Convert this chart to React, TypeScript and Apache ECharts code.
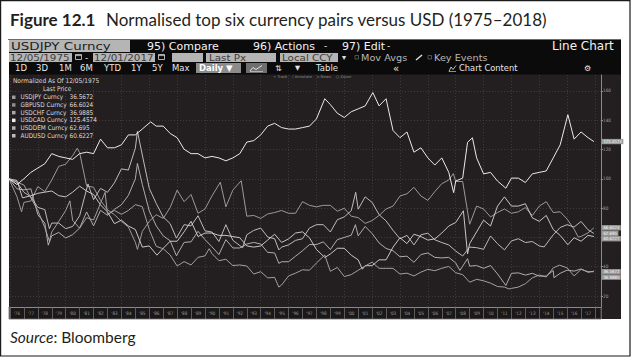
import React, { useEffect, useRef } from "react";
import * as echarts from "echarts";

// ---------- data (normalised to 100 on 12/05/1975) ----------
const SERIES_NAMES = ["USDJPY Curncy", "GBPUSD Curncy", "USDCHF Curncy", "USDCAD Curncy", "USDDEM Curncy", "AUDUSD Curncy"];
const LAST_PRICES = ["36.5672", "66.6024", "36.9885", "125.4574", "62.695", "60.6227"];

const USDJPY = [[1975.93,100],[1976.5,97.7],[1977.0,95.8],[1977.5,86.9],[1978.0,78.4],[1978.5,66.7],[1978.83,57.5],[1979.0,63.7],[1979.5,70.9],[1980.0,78.4],[1980.3,85],[1980.5,71.6],[1981.0,66.3],[1981.5,73.5],[1982.0,71.9],[1982.5,83.3],[1982.83,90.8],[1983.0,75.8],[1983.5,78.4],[1984.0,75.8],[1984.5,78.4],[1985.0,82.4],[1985.5,81],[1986.0,65.4],[1986.5,53.9],[1987.0,52.3],[1987.5,48],[1988.0,40.5],[1988.5,43.5],[1989.0,41.2],[1989.5,46.4],[1990.0,47.4],[1990.3,52.3],[1990.5,49],[1991.0,44.1],[1991.5,45.1],[1992.0,40.8],[1992.5,41.2],[1993.0,40.5],[1993.5,35],[1994.0,36.6],[1994.5,32.4],[1995.0,32.7],[1995.3,26.1],[1995.5,27.5],[1996.0,33.7],[1996.5,35.6],[1997.0,37.9],[1997.5,37.6],[1998.0,42.5],[1998.6,48],[1999.0,36.9],[1999.5,39.5],[2000.0,33.3],[2000.5,34.6],[2001.0,37.6],[2001.5,40.5],[2002.0,43.1],[2002.5,38.9],[2003.0,38.9],[2003.5,38.9],[2004.0,35],[2004.5,35.6],[2005.0,33.7],[2005.5,36.3],[2006.0,38.2],[2006.5,37.3],[2007.0,38.9],[2007.5,40.2],[2008.0,35.9],[2008.5,34.6],[2009.0,29.4],[2009.5,31.4],[2010.0,30.4],[2010.5,28.8],[2011.0,26.5],[2011.5,26.1],[2011.83,24.8],[2012.0,25.2],[2012.5,26.1],[2013.0,28.4],[2013.5,32.4],[2014.0,34.3],[2014.5,33],[2015.0,39.2],[2015.45,41.1],[2016.0,39.2],[2016.5,33.7],[2017.0,38.2],[2017.5,36.6],[2017.92,36.57]];

const GBPUSD = [[1975.93,100],[1976.5,87.8],[1976.83,77.5],[1977.0,83.9],[1977.5,84.9],[1978.0,94.7],[1978.5,91.3],[1979.0,99.2],[1979.5,108.5],[1980.0,110],[1980.5,115.9],[1980.83,120.9],[1981.0,117.9],[1981.5,95.2],[1982.0,94.2],[1982.5,85.3],[1983.0,78.9],[1983.5,75.5],[1984.0,71],[1984.5,67.1],[1985.0,56.7],[1985.15,51.8],[1985.5,64.1],[1986.0,71],[1986.5,75.5],[1987.0,73],[1987.5,80.4],[1988.0,92.3],[1988.5,84.4],[1989.0,89.3],[1989.5,76.5],[1990.0,79.4],[1990.5,88.3],[1991.1,97.7],[1991.5,80.9],[1992.0,92.3],[1992.6,98.7],[1993.0,74.5],[1993.5,75],[1994.0,73],[1994.5,76],[1995.0,77],[1995.5,78.4],[1996.0,76.5],[1996.5,76.5],[1997.0,84.4],[1997.5,81.9],[1998.0,80.9],[1998.5,81.9],[1999.0,81.9],[1999.5,77.9],[2000.0,79.9],[2000.5,74.5],[2001.0,73.5],[2001.5,69.6],[2002.0,71.5],[2002.5,75],[2003.0,79.4],[2003.5,81.4],[2004.0,88.3],[2004.5,89.8],[2005.0,94.2],[2005.5,88.3],[2006.0,85.3],[2006.5,91.3],[2007.0,96.7],[2007.5,99.2],[2007.83,103.6],[2008.0,98.2],[2008.5,98.2],[2009.0,69],[2009.5,81.4],[2010.0,79.4],[2010.5,74],[2011.0,77],[2011.5,79.4],[2012.0,76.5],[2012.5,77.5],[2013.0,80.4],[2013.5,75],[2014.0,81.4],[2014.5,84.4],[2015.0,77],[2015.5,77.5],[2016.0,72.5],[2016.5,65.6],[2016.8,60.2],[2017.0,60.7],[2017.5,63.1],[2017.92,66.6]];

const USDCHF = [[1975.93,100],[1976.5,93.2],[1977.0,92.5],[1977.5,93.2],[1978.0,75.5],[1978.5,69.8],[1978.75,54.7],[1979.0,61.1],[1979.5,63.4],[1980.0,59.6],[1980.5,61.9],[1981.0,66.4],[1981.5,77.4],[1982.0,67.9],[1982.5,78.5],[1983.0,75.1],[1983.5,79.2],[1984.0,82.3],[1984.5,88.7],[1985.0,100],[1985.15,110.6],[1985.5,96.2],[1986.0,78.1],[1986.5,67.9],[1987.0,61.1],[1987.5,57.7],[1987.95,47.5],[1988.5,56.6],[1989.0,57],[1989.5,64.2],[1990.0,58.5],[1990.5,53.6],[1991.0,48.3],[1991.5,58.5],[1992.0,52.8],[1992.5,52.8],[1993.0,55.5],[1993.5,56.6],[1994.0,55.5],[1994.5,49.8],[1995.0,49.4],[1995.3,42.3],[1995.5,43.4],[1996.0,43.4],[1996.5,47.2],[1997.0,50.9],[1997.5,55.1],[1998.0,55.1],[1998.5,57],[1999.0,51.7],[1999.5,58.5],[2000.0,60],[2000.5,61.5],[2000.8,68.7],[2001.0,61.1],[2001.5,67.5],[2002.0,62.6],[2002.5,56.2],[2003.0,52.5],[2003.5,50.9],[2004.0,46.8],[2004.5,47.2],[2005.0,43],[2005.5,48.3],[2006.0,49.4],[2006.5,46.4],[2007.0,46],[2007.5,46.4],[2008.0,42.6],[2008.3,37.5],[2008.85,45.5],[2009.0,40.4],[2009.5,40.8],[2010.0,38.9],[2010.5,40.8],[2011.0,35.1],[2011.6,27.2],[2012.0,35.5],[2012.5,35.8],[2013.0,34.3],[2013.5,35.5],[2014.0,33.6],[2014.5,33.6],[2015.0,37.4],[2015.05,32.5],[2015.5,35.5],[2016.0,37.7],[2016.5,37],[2017.0,38.5],[2017.5,36.2],[2017.92,36.99]];

const USDCAD = [[1975.93,100],[1976.5,96.1],[1977.0,100],[1977.5,104.4],[1978.0,107.4],[1978.5,110.3],[1979.0,117.2],[1979.5,115.3],[1980.0,114.3],[1980.5,113.3],[1981.0,117.2],[1981.5,118.2],[1982.0,117.2],[1982.5,127.1],[1983.0,121.2],[1983.5,121.2],[1984.0,123.2],[1984.5,130],[1985.0,130],[1985.5,134],[1986.1,138.9],[1986.5,136],[1987.0,136],[1987.5,131],[1988.0,128.1],[1988.5,120.2],[1989.0,117.2],[1989.5,117.2],[1990.0,114.3],[1990.5,115.3],[1991.0,114.3],[1991.5,112.3],[1992.0,114.3],[1992.5,117.2],[1993.0,125.1],[1993.5,126.1],[1994.0,130],[1994.5,136],[1995.0,137.9],[1995.5,135],[1996.0,134],[1996.5,134],[1997.0,135],[1997.5,136],[1998.0,140.9],[1998.6,154.7],[1999.0,150.7],[1999.5,144.8],[2000.0,141.9],[2000.5,145.8],[2001.0,147.8],[2001.5,149.8],[2002.05,158.9],[2002.5,149.8],[2003.0,154.7],[2003.5,133],[2004.0,128.1],[2004.5,132],[2005.0,118.2],[2005.5,121.2],[2006.0,114.3],[2006.5,109.4],[2007.0,114.3],[2007.5,104.4],[2007.85,90.6],[2008.0,98.5],[2008.5,100.5],[2008.85,125],[2009.2,128],[2009.5,114.3],[2010.0,103.4],[2010.5,104.4],[2011.0,98.5],[2011.6,93.6],[2012.0,100.5],[2012.5,100.5],[2013.0,97.5],[2013.5,103.4],[2014.0,104.4],[2014.5,105.4],[2015.0,114.3],[2015.5,123.2],[2016.05,143.8],[2016.5,127.1],[2017.0,132],[2017.5,128.1],[2017.92,125.46]];

const USDDEM = [[1975.93,100],[1976.5,97.7],[1977.0,90.8],[1977.5,87.7],[1978.0,80.5],[1978.5,79],[1978.83,66],[1979.0,69.8],[1979.5,69.8],[1980.0,66],[1980.5,67.5],[1981.0,74.8],[1981.6,96.5],[1982.0,85.8],[1982.5,93.5],[1983.0,90.8],[1983.5,97.3],[1984.0,106.8],[1984.5,106],[1985.0,120.9],[1985.15,132.4],[1985.5,116.3],[1986.0,93.5],[1986.5,83.2],[1987.0,74],[1987.5,69.4],[1987.95,59.5],[1988.5,68.7],[1989.0,67.9],[1989.5,74.8],[1990.0,64.5],[1990.5,63.7],[1991.0,57.2],[1991.5,68.7],[1992.0,58],[1992.7,53],[1993.0,61.8],[1993.5,64.8],[1994.0,66.4],[1994.5,60.3],[1995.0,59.1],[1995.3,51.5],[1995.5,53.4],[1996.0,54.9],[1996.5,58],[1997.0,59.1],[1997.5,66.4],[1998.0,68.7],[1998.5,68.7],[1999.0,63.7],[1999.5,72.1],[2000.0,74],[2000.5,78.2],[2000.82,90.8],[2001.0,79.3],[2001.5,87.7],[2002.0,83.9],[2002.5,75.5],[2003.0,71.3],[2003.5,64.8],[2004.0,59.1],[2004.5,61.4],[2005.0,54.9],[2005.5,61.8],[2006.0,62.9],[2006.5,58.4],[2007.0,56.5],[2007.5,54.9],[2008.0,50.7],[2008.5,47.3],[2009.0,53.4],[2009.5,53],[2010.0,51.9],[2010.5,61],[2011.0,55.7],[2011.5,51.5],[2012.0,57.6],[2012.5,59.1],[2013.0,56.5],[2013.5,57.2],[2014.0,54.2],[2014.35,53.5],[2015.0,61.8],[2015.5,66.8],[2016.0,68.7],[2016.5,67.1],[2017.0,70.9],[2017.5,65.2],[2017.92,62.7]];

const AUDUSD = [[1975.93,100],[1976.5,98.9],[1976.9,87],[1977.5,88.5],[1978.0,90.1],[1978.5,90.9],[1979.0,91.7],[1979.5,88.5],[1980.0,87.7],[1980.5,90.9],[1981.0,95],[1981.5,91.7],[1982.0,89.3],[1982.5,82.2],[1983.0,77.4],[1983.5,69.4],[1984.0,71.8],[1984.5,67.8],[1985.0,65.4],[1985.5,53.4],[1986.0,54.2],[1986.55,47.9],[1987.0,52.6],[1987.5,57.4],[1988.0,57.4],[1988.5,63.8],[1989.0,71],[1989.5,60.6],[1990.0,63],[1990.5,63],[1991.0,61.4],[1991.5,61.4],[1992.0,60.6],[1992.5,59.8],[1993.0,54.2],[1993.5,53.4],[1994.0,54.2],[1994.5,58.2],[1995.0,62.2],[1995.5,56.6],[1996.0,59],[1996.5,63],[1997.0,63.8],[1997.5,59.8],[1998.0,51.8],[1998.6,46.3],[1999.0,48.7],[1999.5,52.6],[2000.0,52.6],[2000.5,47.9],[2001.0,44.7],[2001.3,38.3],[2001.5,40.7],[2002.0,40.7],[2002.5,44.7],[2003.0,44.7],[2003.5,53.4],[2004.0,59.8],[2004.5,55.8],[2005.0,62.2],[2005.5,60.6],[2006.0,58.2],[2006.5,59],[2007.0,63],[2007.5,67.8],[2008.0,70.2],[2008.55,78.2],[2008.85,48.7],[2009.0,55.8],[2009.5,63.8],[2010.0,71.8],[2010.5,67.8],[2011.0,81.4],[2011.5,87.7],[2012.0,81.4],[2012.5,81.4],[2013.0,83],[2013.5,73.4],[2014.0,71],[2014.5,75],[2015.0,65.4],[2015.5,61.4],[2016.05,55],[2016.5,59.8],[2017.0,57.4],[2017.5,61.4],[2017.92,60.62]];

const SERIES_DATA = [USDJPY, GBPUSD, USDCHF, USDCAD, USDDEM, AUDUSD];
// tick values hidden behind the last-price boxes on the right axis
const COVERED_TICKS = [60];

// ---------- styles ----------
const LINE_COLORS = ["#a8a8a8", "#a0a0a0", "#b5b5b5", "#f4f4f4", "#c4c4c4", "#d0d0d0"];
const KEY_COLORS = ["#9a9a9a", "#8c8c8c", "#a8a8a8", "#ececec", "#b0b0b0", "#bcbcbc"];
const END_LABEL_SHIFT = [0, 0, 6, 0, -0.2, 2.2];
const UI = "'DejaVu Sans', sans-serif";
const NARROW = "'Liberation Sans Narrow', 'DejaVu Sans Condensed', 'Liberation Sans', sans-serif";
const PRINT = "Lato, 'Open Sans', sans-serif";

const X_MIN = 1975.93, X_MAX = 2018.43, Y_MIN = 12.5, Y_MAX = 170.9;

function txt(x: number, y: number, text: string, fontSize: number, fill: string, extra: any = {}) {
  return {
    type: "text", x, y, z: 10, silent: true,
    scaleX: extra.scaleX || 1,
    style: {
      text, fontSize, fill,
      fontFamily: extra.fontFamily || UI,
      fontWeight: extra.fontWeight || "normal",
      fontStyle: extra.fontStyle || "normal",
      verticalAlign: "middle",
      align: extra.align || "left",
      lineHeight: extra.lineHeight || fontSize,
      rich: extra.rich,
    },
  };
}
function box(x: number, y: number, w: number, h: number, fill: string, extra: any = {}) {
  return {
    type: "rect", silent: true, z: extra.z ?? 5,
    shape: { x, y, width: w, height: h },
    style: { fill, stroke: extra.stroke || null, lineWidth: extra.lineWidth || 0 },
  };
}
function seg(x1: number, y1: number, x2: number, y2: number, stroke: string, lineWidth = 1, z = 6) {
  return { type: "line", silent: true, z, shape: { x1, y1, x2, y2 }, style: { stroke, lineWidth } };
}
function poly(points: number[][], stroke: string, lineWidth = 0.8) {
  return { type: "polyline", silent: true, z: 8, shape: { points }, style: { stroke, lineWidth, fill: null } };
}

export default function App() {
  const ref = useRef<HTMLDivElement>(null);
  useEffect(() => {
    if (!ref.current) return;
    const chart = echarts.init(ref.current, null, { renderer: "svg" });

    const toolbar3 = [["1D", 15], ["3D", 36], ["1M", 59], ["6M", 80], ["YTD", 104], ["1Y", 131], ["5Y", 152], ["Max", 172]];
    const R2 = { scaleX: 1.15 };

    const graphics: any[] = [
      box(0.6, 0.6, 629.4, 355.4, "#ffffff", { stroke: "#1a1a1a", lineWidth: 1.2, z: -20 }),
      seg(8, 39.5, 621, 39.5, "#6a6a6a", 1.2, -8),
      txt(10, 19.5, "Figure 12.1", 17, "#231f20", { fontFamily: PRINT, fontWeight: "bold" }),
      txt(106, 19.5, "Normalised top six currency pairs versus USD (1975\u20132018)", 17, "#231f20", { fontFamily: PRINT }),
      txt(10, 337, "{i|Source}{n|: Bloomberg}", 15.5, "#231f20", {
        fontFamily: PRINT,
        rich: {
          i: { fontStyle: "italic", fontSize: 15.5, fontFamily: PRINT, fill: "#231f20" },
          n: { fontSize: 15.5, fontFamily: PRINT, fill: "#231f20" },
        },
      }),
      // screenshot backgrounds
      box(9, 40, 612, 279, "#231f20", { z: -10 }),
      box(9, 40, 612, 34.5, "#0c0b0b", { z: -9 }),
      // row 1
      box(9, 40, 121, 12, "#b5b5b5"),
      txt(11, 46.3, "USDJPY Curncy", 11, "#1e1e1e", { scaleX: 1.22 }),
      txt(147, 46.3, "95) Compare", 11, "#f2f2f2"),
      txt(253, 46.3, "96) Actions", 11, "#f2f2f2"),
      txt(324, 46.3, "-", 9, "#f2f2f2"),
      txt(342, 46.3, "97) Edit", 11, "#f2f2f2"),
      txt(387, 46.3, "-", 9, "#f2f2f2"),
      txt(552, 46.3, "Line Chart", 12, "#f2f2f2"),
      // row 2
      box(9, 53, 63, 9, "#b5b5b5"),
      txt(10, 57.6, "12/05/1975", 9, "#3c3c3c", R2),
      box(75.5, 54.5, 6, 5, "#0c0b0b", { stroke: "#d8d8d8", lineWidth: 0.8, z: 6 }),
      seg(75.5, 55.6, 81.5, 55.6, "#d8d8d8", 0.8, 7),
      txt(85, 57.6, "-", 9, "#e0e0e0"),
      box(93, 53, 62, 9, "#b5b5b5"),
      txt(94, 57.6, "12/01/2017", 9, "#3c3c3c", R2),
      box(158.5, 54.5, 6, 5, "#0c0b0b", { stroke: "#d8d8d8", lineWidth: 0.8, z: 6 }),
      seg(158.5, 55.6, 164.5, 55.6, "#d8d8d8", 0.8, 7),
      box(172, 53, 31, 9, "#b5b5b5"),
      box(206, 53, 70, 9, "#b5b5b5"),
      txt(209, 57.6, "Last Px", 9, "#3c3c3c", R2),
      box(280, 53, 58, 9, "#b5b5b5"),
      txt(282, 57.6, "Local CCY", 9, "#3c3c3c", R2),
      txt(342, 57.6, "\u25BE", 8, "#e0e0e0"),
      box(355, 55.5, 3.5, 3.5, "none", { stroke: "#6e6e6e", lineWidth: 0.7 }),
      txt(361, 57.6, "Mov Avgs", 9, "#b8b8b8", { scaleX: 1.08 }),
      seg(416, 60, 422, 55, "#dddddd", 1.5),
      box(428, 55.5, 3.5, 3.5, "none", { stroke: "#6e6e6e", lineWidth: 0.7 }),
      txt(434, 57.6, "Key Events", 9, "#b8b8b8", { scaleX: 1.08 }),
      // row 3
      ...toolbar3.map(([t, x]) => txt(x as number, 68.3, t as string, 8.5, "#e6e6e6")),
      box(196, 63, 45, 10, "#8c8c8c"),
      txt(199, 68.3, "Daily \u25BC", 8.5, "#ffffff", { fontWeight: "bold" }),
      box(246, 63, 21, 10, "#6f6f6f"),
      poly([[250, 71], [253, 67.5], [256, 69.5], [262, 65.5]], "#ffffff", 0.8),
      seg(250, 71.5, 263, 71.5, "#dddddd", 0.6, 8),
      txt(275, 68.3, "\u21C5", 8, "#e6e6e6"),
      txt(295, 68.3, "\u25BC", 6.5, "#e6e6e6"),
      txt(316, 68.3, "Table", 8.5, "#e6e6e6"),
      txt(393, 68.1, "\u00AB", 10, "#e6e6e6"),
      poly([[449, 71.5], [451, 67], [453, 69.5], [456, 65.5]], "#e6e6e6", 0.8),
      seg(449, 71.5, 456, 71.5, "#e6e6e6", 0.6, 8),
      txt(459, 68.3, "Chart Content", 8.3, "#e6e6e6"),
      txt(584, 68.3, "\u2699", 8, "#e6e6e6"),
      // tiny legend
      txt(273, 76.2, "+ Track    \u2215 Annotate    \u25AB News    \u25CB Zoom", 3.8, "#8a8a8a"),
      // plot header texts
      txt(13, 81.3, "Normalized As Of 12/05/1975", 6.5, "#dcdcdc", { fontFamily: NARROW }),
      txt(43, 89.3, "Last Price", 6.5, "#dcdcdc", { fontFamily: NARROW }),
      // x-axis band
      box(9, 307, 592, 12, "#1b1819", { stroke: "#6a6a6a", lineWidth: 0.8, z: -5 }),
    ];

    const xBase = {
      type: "value", gridIndex: 0, position: "bottom", min: X_MIN, max: X_MAX,
      axisLine: { show: false }, axisTick: { show: false }, axisLabel: { show: false },
      splitLine: { show: false }, axisPointer: { show: false },
    };

    const option: any = {
      animation: false,
      backgroundColor: "#ffffff",
      textStyle: { fontFamily: UI },
      grid: {
        left: 9, top: 75, width: 592, height: 232, show: true,
        backgroundColor: "#231f20", borderWidth: 0, outerBoundsMode: "none",
      },
      legend: {
        show: true, orient: "vertical", left: 12, top: 93.4, padding: 0, itemGap: 0,
        itemWidth: 3.5, itemHeight: 3.5, icon: "rect", selectedMode: false,
        data: SERIES_NAMES,
        formatter: (name: string) => `{n|${name}}{v|${LAST_PRICES[SERIES_NAMES.indexOf(name)]}}`,
        textStyle: {
          color: "#dcdcdc", fontSize: 6.4, fontFamily: NARROW, lineHeight: 7.7,
          rich: {
            n: { width: 49, fontSize: 6.4, fontFamily: NARROW, lineHeight: 7.7, color: "#dcdcdc" },
            v: { fontSize: 6.4, fontFamily: NARROW, lineHeight: 7.7, color: "#dcdcdc" },
          },
        },
      },
      xAxis: [
        {
          ...xBase,
          minInterval: 2, maxInterval: 2, splitNumber: 21,
          axisLine: { show: true, lineStyle: { color: "#8a8a8a", width: 1 } },
          splitLine: { show: true, showMinLine: false, showMaxLine: false, lineStyle: { color: "#4b4748", width: 0.7, type: [1, 2] } },
        },
        {
          ...xBase,
          minInterval: 1, maxInterval: 1, splitNumber: 43,
          axisTick: { show: true, inside: false, length: 12, lineStyle: { color: "#6d6d6d", width: 0.8 } },
        },
        {
          ...xBase,
          min: X_MIN - 0.5, max: X_MAX - 0.5,
          minInterval: 1, maxInterval: 1, splitNumber: 43,
          axisLabel: {
            show: true, fontSize: 4.6, color: "#9a9a9a", margin: 4, fontFamily: NARROW,
            showMinLabel: false, showMaxLabel: false,
            formatter: (v: number) => "'" + String(Math.round(v)).slice(2),
          },
        },
      ],
      yAxis: {
        type: "value", position: "right", min: Y_MIN, max: Y_MAX,
        splitNumber: 8, minInterval: 20, maxInterval: 20,
        axisLine: { show: true, lineStyle: { color: "#8a8a8a", width: 1 } },
        axisTick: { show: true, length: 2, lineStyle: { color: "#8a8a8a" } },
        axisLabel: {
          show: true, fontSize: 4.6, color: "#a0a0a0", margin: 2, fontFamily: NARROW,
          showMinLabel: false, showMaxLabel: false,
          formatter: (v: number) => (COVERED_TICKS.indexOf(Math.round(v)) >= 0 ? "" : String(Math.round(v))),
        },
        splitLine: { show: true, showMinLine: false, showMaxLine: false, lineStyle: { color: "#4b4748", width: 0.7, type: [1, 2] } },
        axisPointer: { show: false },
      },
      series: SERIES_DATA.map((d, i) => ({
        name: SERIES_NAMES[i],
        type: "line",
        xAxisIndex: 0,
        data: d,
        showSymbol: false,
        symbol: "none",
        silent: true,
        z: i === 3 ? 6 : i === 0 ? 5 : 3,
        color: KEY_COLORS[i],
        itemStyle: { color: KEY_COLORS[i] },
        lineStyle: { width: 0.95, color: LINE_COLORS[i] },
        emphasis: { disabled: true },
        endLabel: {
          show: true,
          formatter: LAST_PRICES[i],
          distance: 8,
          offset: [0, END_LABEL_SHIFT[i]],
          fontSize: 4.3,
          lineHeight: 4.6,
          fontFamily: NARROW,
          color: "#f5f5f5",
          backgroundColor: "#9a9a9a",
          padding: [0.5, 1.5, 0.2, 1.5],
        },
      })),
      graphic: { elements: graphics },
    };

    chart.setOption(option);
    return () => chart.dispose();
  }, []);

  return <div ref={ref} style={{ position: "fixed", left: 0, top: 0, width: 631, height: 357 }} />;
}
